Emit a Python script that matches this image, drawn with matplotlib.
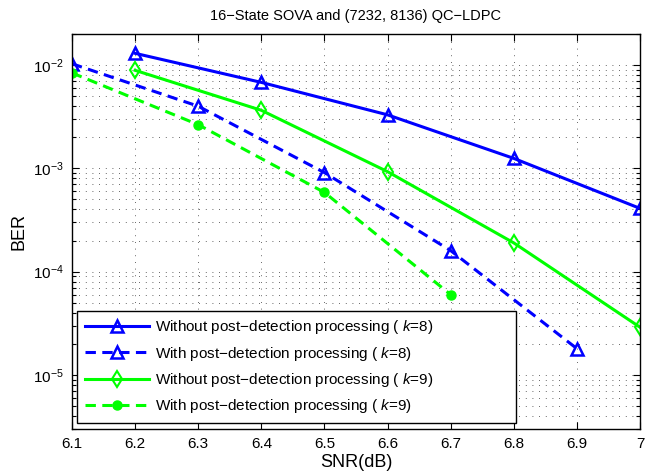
import numpy as np
import matplotlib
matplotlib.use('Agg')
import matplotlib.pyplot as plt

plt.rcParams['font.family'] = ['Liberation Sans', 'DejaVu Sans']
plt.rcParams['mathtext.fontset'] = 'custom'
plt.rcParams['mathtext.rm'] = 'Liberation Sans'
plt.rcParams['mathtext.it'] = 'Liberation Sans:italic'

# BER curves
snr_k8_wo = [6.2, 6.4, 6.6, 6.8, 7.0]
ber_k8_wo = [1.3e-2, 6.8e-3, 3.3e-3, 1.25e-3, 4.1e-4]
snr_k8_w = [6.1, 6.3, 6.5, 6.7, 6.9]
ber_k8_w = [1.03e-2, 4.0e-3, 9.1e-4, 1.6e-4, 1.8e-5]
snr_k9_wo = [6.2, 6.4, 6.6, 6.8, 7.0]
ber_k9_wo = [8.9e-3, 3.65e-3, 9.3e-4, 1.9e-4, 2.9e-5]
snr_k9_w = [6.1, 6.3, 6.5, 6.7]
ber_k9_w = [8.4e-3, 2.65e-3, 5.85e-4, 6.0e-5]

labels = [u'Without post\u2212detection processing ( $k$=8)',
          u'With post\u2212detection processing ( $k$=8)',
          u'Without post\u2212detection processing ( $k$=9)',
          u'With post\u2212detection processing ( $k$=9)']
xticks = [6.1, 6.2, 6.3, 6.4, 6.5, 6.6, 6.7, 6.8, 6.9, 7]
xticklabels = ['6.1', '6.2', '6.3', '6.4', '6.5', '6.6', '6.7', '6.8', '6.9', '7']

blue = '#0000ff'
green = '#00ff00'
dash = (0, (3.4, 2.1))

fig = plt.figure(figsize=(6.65, 4.74), dpi=100)
ax = fig.add_axes([72 / 665., 45 / 474., 568 / 665., 395 / 474.])

ax.semilogy(snr_k8_wo, ber_k8_wo, color=blue, lw=2.2, marker='^', ms=8.5,
            mfc='none', mew=1.8, label=labels[0])
ax.semilogy(snr_k8_w, ber_k8_w, color=blue, lw=2.2, ls=dash, marker='^', ms=8.5,
            mfc='none', mew=1.8, label=labels[1])
ax.semilogy(snr_k9_wo, ber_k9_wo, color=green, lw=2.2, marker='d', ms=8,
            mfc='none', mew=1.5, label=labels[2])
ax.semilogy(snr_k9_w, ber_k9_w, color=green, lw=2.2, ls=dash, marker='o', ms=6.5,
            mfc=green, mew=1, label=labels[3])

ax.set_xlim(6.1, 7)
ax.set_ylim(3e-6, 2e-2)
ax.set_xticks(xticks)
ax.set_xticklabels(xticklabels)

ax.grid(True, which='major', ls=(0, (1, 7)), color='0.2', lw=0.6)
ax.grid(True, which='minor', axis='y', ls=(0, (1, 7)), color='0.2', lw=0.6)
ax.tick_params(which='both', direction='in', top=True, right=True,
               labelsize=11, width=0.8)
ax.tick_params(which='major', length=5, pad=6)
ax.tick_params(which='minor', length=3)
for s in ax.spines.values():
    s.set_linewidth(1.0)

ax.set_title(u'16\u2212State SOVA and (7232, 8136) QC\u2212LDPC', fontsize=10.5, pad=10)
ax.set_xlabel('SNR(dB)', fontsize=13, labelpad=2)
ax.set_ylabel('BER', fontsize=13, labelpad=4)

leg = ax.legend(loc='lower left', bbox_to_anchor=(0.009, 0.015, 0.773, 0.29),
                mode='expand', fontsize=11, handlelength=4.2, handletextpad=0.4,
                borderaxespad=0, fancybox=False, framealpha=1,
                edgecolor='black', labelspacing=0.55, borderpad=0.5)
leg.get_frame().set_linewidth(1.0)

fig.savefig('out.png', dpi=100)
